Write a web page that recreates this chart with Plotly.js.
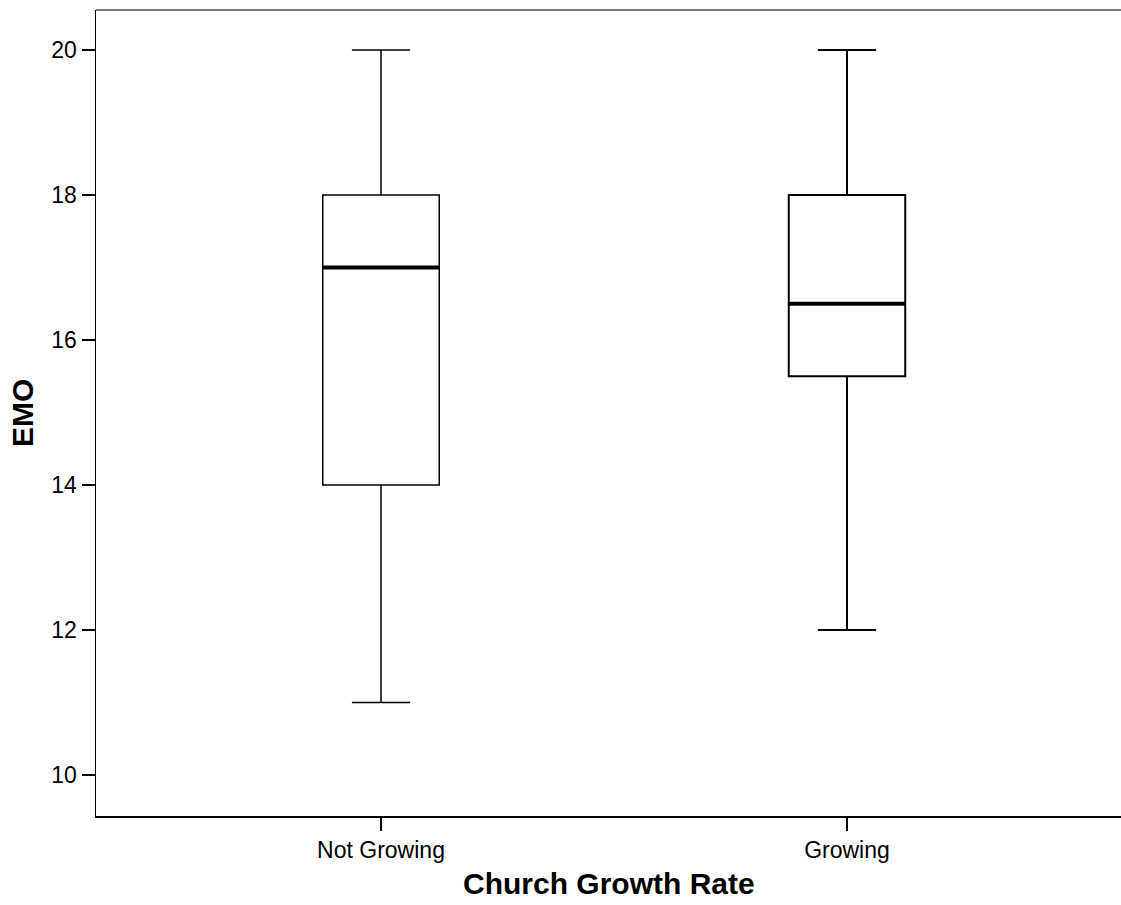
<!DOCTYPE html>
<html>
<head>
<meta charset="utf-8">
<script src="https://cdn.plot.ly/plotly-3.0.1.min.js"></script>
<style>html,body{margin:0;padding:0;background:#fff;}#chart{width:1121px;height:905px;}</style>
</head>
<body>
<div id="chart"></div>
<script>
const categories = ["Not Growing", "Growing"];
const minimums = [11, 12];
const q1s = [14, 15.5];
const medians = [17, 16.5];
const q3s = [18, 18];
const maximums = [20, 20];
const yTicks = [10, 12, 14, 16, 18, 20];

const positions = categories.map((c, i) => i);
const boxWidth = 0.25;
const lineWidths = [1.5, 2];

const traces = [];
positions.forEach((p, i) => {
  traces.push({
    type: 'box',
    x: [p],
    q1: [q1s[i]],
    median: [medians[i]],
    q3: [q3s[i]],
    lowerfence: [minimums[i]],
    upperfence: [maximums[i]],
    width: boxWidth,
    whiskerwidth: 0.5,
    fillcolor: '#ffffff',
    line: {color: '#000000', width: lineWidths[i]},
    boxpoints: false,
    hoverinfo: 'none',
    showlegend: false
  });
});
// thicker median lines, drawn from the same data
positions.forEach((p, i) => {
  traces.push({
    type: 'scatter', mode: 'lines',
    x: [p - boxWidth / 2, p + boxWidth / 2],
    y: [medians[i], medians[i]],
    line: {color: '#000000', width: 4},
    hoverinfo: 'none', showlegend: false
  });
});

const font = 'Liberation Sans, Arial, sans-serif';
const layout = {
  width: 1121, height: 905,
  paper_bgcolor: '#ffffff', plot_bgcolor: '#ffffff',
  margin: {l: 96, r: 0, t: 10, b: 89},
  font: {family: font, color: '#000000', size: 23},
  showlegend: false,
  boxmode: 'overlay',
  xaxis: {
    range: [-0.6116, 1.588],
    tickmode: 'array', tickvals: positions, ticktext: categories,
    ticks: 'outside', ticklen: 13, tickwidth: 1.5, tickcolor: '#000000',
    showline: true, linecolor: '#000000', linewidth: 1.5,
    showgrid: false, zeroline: false,
    tickfont: {family: font, size: 23, color: '#000000'},
    automargin: false, fixedrange: true
  },
  yaxis: {
    range: [9.434, 20.55],
    tickmode: 'array', tickvals: yTicks,
    ticks: 'outside', ticklen: 13, tickwidth: 1.5, tickcolor: '#000000',
    showline: true, linecolor: '#000000', linewidth: 1.5,
    showgrid: false, zeroline: false,
    tickfont: {family: font, size: 23, color: '#000000'},
    automargin: false, fixedrange: true
  },
  annotations: [
    {text: '<b>Church Growth Rate</b>', xref: 'paper', yref: 'paper',
     x: 0.5, y: -(883 - 816) / 806, xanchor: 'center', yanchor: 'middle',
     showarrow: false, font: {family: font, size: 30, color: '#000000'}},
    {text: '<b>EMO</b>', xref: 'paper', yref: 'paper',
     x: (22 - 96) / 1025, y: 0.5, xanchor: 'center', yanchor: 'middle', textangle: -90,
     showarrow: false, font: {family: font, size: 30, color: '#000000'}}
  ],
  shapes: [{
    type: 'line', xref: 'paper', yref: 'paper', x0: 0, x1: 1, y0: 1, y1: 1,
    line: {color: '#7a7a7a', width: 2}
  }]
};
Plotly.newPlot('chart', traces, layout, {staticPlot: true, displayModeBar: false});
</script>
</body>
</html>
